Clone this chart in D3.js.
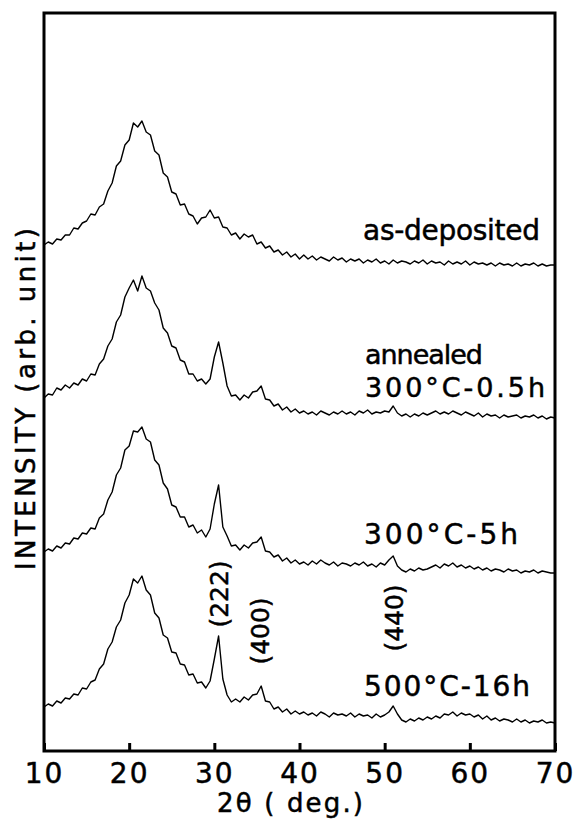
<!DOCTYPE html>
<html>
<head>
<meta charset="utf-8">
<script src="https://cdn.jsdelivr.net/npm/d3@7/dist/d3.min.js"></script>
<style>
  body { margin: 0; background: #fff; }
  text { font-family: "DejaVu Sans", sans-serif; fill: #000; stroke: #000; stroke-width: 0.5px; }
</style>
</head>
<body>
<div id="chart"></div>
<script>
// scan angles (deg)
var twoTheta = [10,10.5,11,11.5,12,12.5,13,13.5,14,14.5,15,15.5,16,16.5,17,17.5,18,18.5,19,19.5,
  20,20.5,21,21.5,22,22.5,23,23.5,24,24.5,25,25.5,26,26.5,27,27.5,28,28.5,29,29.5,
  30,30.5,31,31.5,32,32.5,33,33.5,34,34.5,35,35.5,36,36.5,37,37.5,38,38.5,39,39.5,
  40,40.5,41,41.5,42,42.5,43,43.5,44,44.5,45,45.5,46,46.5,47,47.5,48,48.5,49,49.5,
  50,50.5,51,51.5,52,52.5,53,53.5,54,54.5,55,55.5,56,56.5,57,57.5,58,58.5,59,59.5,
  60,60.5,61,61.5,62,62.5,63,63.5,64,64.5,65,65.5,66,66.5,67,67.5,68,68.5,69,69.5,70];

// intensities (arb. unit, above each trace's own baseline)
var asDeposited = [26,29,27,32,31,36,36,43,42,48, 50,57,56,64,67,80,88,105,110,126,
  131,148,144,150,139,136,120,116,98,94, 79,77,66,67,57,55,47,53,54,61,
  53,54,44,43,36,38,32,37,34,36, 27,29,23,25,19,21,16,19,14,17, 12,
  16,12,15,11,14,12,10,14,11,13, 9,12,10,12,8,11,9,12,8,10,
  7,11,8,10,9,7,10,8,11,7, 10,8,9,6,10,7,9,7,10,6,
  9,7,8,6,8,5,8,6,7,5, 8,5,7,6,8,5,7,5,6,6];

var ann300_05h = [23,27,26,33,31,36,33,38,36,42, 40,47,46,57,62,75,82,99,106,124,
  133,141,130,145,133,130,118,111,93,88, 75,73,61,59,47,47,40,42,37,42,
  64,79,58,35,25,26,21,26,23,29, 30,35,22,21,15,17,11,14,9,12, 8,
  10,7,9,6,10,8,6,9,7,10, 7,9,6,10,8,11,7,9,8,10,
  9,15,8,5,7,4,7,5,8,6, 8,10,7,9,7,10,8,6,9,7,
  5,8,4,7,5,6,3,6,4,5, 6,3,5,4,6,3,5,2,4,3];

var ann300_5h = [24,27,25,30,28,33,32,38,37,43, 42,48,47,58,62,76,84,101,108,126,
  130,145,144,149,137,134,116,111,93,87, 71,69,59,59,49,51,43,46,39,47,
  72,91,49,40,30,31,26,31,28,33, 34,39,25,24,19,21,15,18,13,16, 12,
  14,11,15,12,16,13,11,14,10,13, 12,10,13,11,14,10,12,9,13,11,
  16,20,10,6,4,7,5,8,6,7, 9,11,8,12,10,13,9,11,8,10,
  7,9,6,8,5,7,6,4,7,5, 6,3,5,4,6,3,5,4,3,3];

var ann500_16h = [19,22,20,25,23,28,27,32,31,38, 37,44,46,57,62,77,84,99,106,123,
  131,147,143,150,136,131,113,108,91,88, 74,73,62,61,51,52,43,44,38,45,
  67,90,47,31,24,27,24,29,26,31, 32,40,25,24,17,19,14,17,12,15, 12,
  14,11,13,10,14,12,9,13,11,12, 10,13,9,12,10,11,8,12,9,11,
  14,20,12,6,4,7,5,8,6,9, 7,10,8,12,11,14,10,13,11,12,
  9,11,7,10,6,8,5,7,6,4, 7,4,6,3,5,4,6,3,4,3];

// vertical shift of each trace (arb. unit)
var offsets = [480, 330, 175, 25];

var xTicks = [10, 20, 30, 40, 50, 60, 70];
var peakLabels = ["(222)", "(400)", "(440)"];
var peakAngles = [30.55, 35.4, 51.1];

var series = [asDeposited, ann300_05h, ann300_5h, ann500_16h];

var margin = {top: 13, right: 22, bottom: 68, left: 44},
  width = 577 - margin.left - margin.right,
  height = 819 - margin.top - margin.bottom;

var root = d3.select("#chart")
  .append("svg")
  .attr("width", 577)
  .attr("height", 819);

var svg = root.append("g")
  .attr("transform", "translate(" + margin.left + "," + margin.top + ")");

var x = d3.scaleLinear().domain([10, 70]).range([0, width]);
var y = d3.scaleLinear().domain([0, 738]).range([height, 0]);

// traces
series.forEach(function (vals, k) {
  var line = d3.line()
    .x(function (d, i) { return x(twoTheta[i]); })
    .y(function (d) { return y(d + offsets[k]); });
  svg.append("path")
    .datum(vals)
    .attr("fill", "none")
    .attr("stroke", "#000")
    .attr("stroke-width", 1.4)
    .attr("stroke-linejoin", "round")
    .attr("d", line);
});

// frame
svg.append("rect")
  .attr("width", width)
  .attr("height", height)
  .attr("fill", "none")
  .attr("stroke", "#000")
  .attr("stroke-width", 3);

// bottom axis, ticks pointing in
var xAxis = svg.append("g")
  .attr("transform", "translate(0," + height + ")")
  .call(d3.axisBottom(x).tickValues(xTicks).tickSize(-8).tickPadding(12).tickFormat(d3.format("d")));
xAxis.select(".domain").remove();
xAxis.selectAll(".tick line").attr("stroke-width", 3);
xAxis.attr("font-size", 28).attr("font-family", "DejaVu Sans");
xAxis.selectAll(".tick text").attr("letter-spacing", 2);

// axis titles
root.append("text")
  .attr("x", 290).attr("y", 812)
  .attr("text-anchor", "middle")
  .attr("font-size", 26)
  .attr("textLength", 146)
  .text("2θ ( deg.)");

root.append("text")
  .attr("transform", "translate(26,399) rotate(-90)")
  .attr("text-anchor", "middle")
  .attr("dy", "0.35em")
  .attr("font-size", 26)
  .attr("textLength", 342)
  .text("INTENSITY (arb. unit)");

// sample labels
var labels = [
  {t: "as-deposited", x: 363, y: 240, w: 177, s: 28},
  {t: "annealed", x: 365, y: 364, w: 118, s: 27},
  {t: "300°C-0.5h", x: 365, y: 397, w: 180, s: 27},
  {t: "300°C-5h", x: 364, y: 544, w: 154, s: 28},
  {t: "500°C-16h", x: 364, y: 696, w: 166, s: 28}
];
labels.forEach(function (l) {
  root.append("text")
    .attr("x", l.x).attr("y", l.y)
    .attr("font-size", l.s)
    .attr("textLength", l.w)
    .text(l.t);
});

// reflection labels
var peakY = [594, 631, 618];
peakLabels.forEach(function (t, i) {
  root.append("text")
    .attr("transform", "translate(" + (margin.left + x(peakAngles[i])) + "," + peakY[i] + ") rotate(-90)")
    .attr("text-anchor", "middle")
    .attr("dy", "0.35em")
    .attr("font-size", 25)
    .text(t);
});
</script>
</body>
</html>
